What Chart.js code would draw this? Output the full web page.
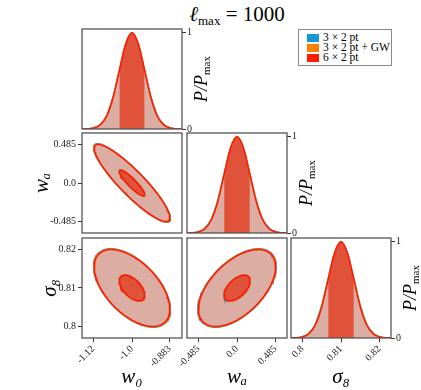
<!DOCTYPE html>
<html>
<head>
<meta charset="utf-8">
<script src="https://cdn.jsdelivr.net/npm/chart.js@4.4.1/dist/chart.umd.min.js"></script>
<style>
body{margin:0;background:#fff;width:421px;height:390px;position:relative;overflow:hidden;font-family:'Liberation Serif','DejaVu Serif',serif}
canvas{position:absolute;left:0;top:0}
#title{position:absolute;left:0;top:2px;width:474px;text-align:center;font-family:'Liberation Serif','DejaVu Serif',serif;font-size:21px;color:#000}
#title sub{font-size:13px;vertical-align:-4px}
#legend{position:absolute;left:298px;top:29px;width:92px;height:33px;border:1px solid #8a8a8a;font-family:'Liberation Serif','DejaVu Serif',serif;font-size:11.5px;line-height:10px;padding-top:2px;box-sizing:content-box}
#legend div{height:10px;white-space:nowrap}
#legend span{display:inline-block;width:12px;height:8px;margin:0 4px 0 8px;vertical-align:-1px}
</style>
</head>
<body>
<div id="title"><i>ℓ</i><sub>max</sub> = 1000</div>
<div id="legend"></div>
<script>
'use strict'
// parameters: w0, wa, sigma8
const paramNames = ['w₀', 'wₐ', 'σ₈'];
const centers = [-1.0, 0.0, 0.81];
const axisMin = [-1.155, -0.63, 0.797];
const axisMax = [-0.845, 0.63, 0.823];
const tickValues = [[-1.12, -1.0, -0.883], [-0.485, 0.0, 0.485], [0.8, 0.81, 0.82]];
const tickLabels = [['-1.12', '-1.0', '-0.883'], ['-0.485', '0.0', '0.485'], ['0.8', '0.81', '0.82']];

// three probes, 1 sigma errors and correlations (w0-wa, w0-s8, wa-s8)
const seriesNames = ['3 × 2 pt', '3 × 2 pt + GW', '6 × 2 pt'];
const seriesColors = ['#1597d3', '#ff8000', '#ff1a00'];
const sigma3x2 = [0.0398, 0.165, 0.0034];
const sigma3x2GW = [0.0394, 0.1633, 0.00337];
const sigma6x2 = [0.039, 0.1617, 0.00333];
const corr3x2 = [-0.9, -0.55, 0.55];
const corr3x2GW = [-0.9, -0.55, 0.55];
const corr6x2 = [-0.9, -0.55, 0.55];
const contourLevels = [1, 3];

// 1D profile, P/Pmax read at offsets (in sigma) from the centre
const profileOffsets = [-4, -3.5, -3, -2.5, -2, -1.5, -1, -0.5, 0, 0.5, 1, 1.5, 2, 2.5, 3, 3.5, 4];
const profileHeights = [0.0003, 0.002, 0.011, 0.044, 0.135, 0.325, 0.607, 0.882, 1, 0.882, 0.607, 0.325, 0.135, 0.044, 0.011, 0.002, 0.0003];
const pdfTicks = [0, 1];

const allSigma = [sigma3x2, sigma3x2GW, sigma6x2];
const allCorr = [corr3x2, corr3x2GW, corr6x2];

const lightFill = '#dcada2';
const darkFill = '#e1523a';
const tickFont = {family: 'Liberation Serif', size: 10};
const titleFont = {family: 'Liberation Serif', size: 21, style: 'italic'};

const W = 421, H = 390;
const colLeft = [82, 187, 291];
const rowTop = [29, 133, 238];
const SIZE = 100;

// legend
const leg = document.getElementById('legend');
seriesNames.forEach((n, k) => {
    const d = document.createElement('div');
    d.innerHTML = '<span style="background:' + seriesColors[k] + '"></span>' + n;
    leg.appendChild(d);
});

const framePlugin = {
    id: 'frame',
    afterDraw(chart) {
        const a = chart.chartArea, ctx = chart.ctx;
        ctx.save();
        ctx.strokeStyle = '#555';
        ctx.lineWidth = 1.3;
        ctx.strokeRect(a.left, a.top, a.right - a.left, a.bottom - a.top);
        const rt = chart.options.plugins.rightTitle;
        if (rt && rt.show) {
            ctx.translate(a.right + 20, (a.top + a.bottom) / 2);
            ctx.rotate(-Math.PI / 2);
            ctx.fillStyle = '#000';
            ctx.textBaseline = 'middle';
            ctx.font = 'italic 18px "Liberation Serif"';
            const w1 = ctx.measureText('P/P').width;
            ctx.font = '11px "Liberation Serif"';
            const w2 = ctx.measureText('max').width;
            const x0 = -(w1 + w2) / 2;
            ctx.font = 'italic 18px "Liberation Serif"';
            ctx.fillText('P/P', x0, 0);
            ctx.font = '11px "Liberation Serif"';
            ctx.fillText('max', x0 + w1, 5);
        }
        ctx.restore();
    }
};

function contour(px, py, sig, rho, k) {
    const pts = [];
    for (let a = 0; a <= 360; a += 3) {
        const t = a * Math.PI / 180;
        pts.push({
            x: centers[px] + k * sig[px] * Math.cos(t),
            y: centers[py] + k * sig[py] * (rho * Math.cos(t) + Math.sqrt(1 - rho * rho) * Math.sin(t))
        });
    }
    return pts;
}

function profile(p, sig, lo, hi) {
    const pts = [];
    profileOffsets.forEach((o, n) => {
        if (o >= lo && o <= hi) pts.push({x: centers[p] + o * sig[p], y: profileHeights[n]});
    });
    return pts;
}

function corrIndex(a, b) {
    if (a === 0 && b === 1) return 0;
    if (a === 0 && b === 2) return 1;
    return 2;
}

function lineSet(data, color, fill, bg, width) {
    return {
        data: data, borderColor: color, borderWidth: width, backgroundColor: bg || 'transparent',
        fill: fill, pointRadius: 0, tension: 0
    };
}

function xScale(p, show) {
    return {
        type: 'linear', position: 'bottom', min: axisMin[p], max: axisMax[p], display: show,
        afterBuildTicks: s => { s.ticks = tickValues[p].map(v => ({value: v})); },
        afterFit: s => { s.height = show ? 52 : 0; },
        ticks: {
            callback: (v, i) => tickLabels[p][i], minRotation: 45, maxRotation: 45,
            autoSkip: false, font: tickFont, color: '#222', padding: 1
        },
        grid: {drawOnChartArea: false, tickLength: 4, color: '#333'},
        border: {display: false},
        title: {display: true, text: paramNames[p], font: titleFont, color: '#000', padding: {top: 0, bottom: 0}}
    };
}

function yScale(p, show, width) {
    return {
        type: 'linear', position: 'left', min: axisMin[p], max: axisMax[p], display: show,
        afterBuildTicks: s => { s.ticks = tickValues[p].map(v => ({value: v})); },
        afterFit: s => { s.width = show ? width : 0; },
        ticks: {callback: (v, i) => tickLabels[p][i], autoSkip: false, font: tickFont, color: '#222', padding: 2},
        grid: {drawOnChartArea: false, tickLength: 4, color: '#333'},
        border: {display: false},
        title: {display: true, text: paramNames[p], font: titleFont, color: '#000', padding: {top: 2, bottom: 0}}
    };
}

function pdfScale() {
    return {
        type: 'linear', position: 'right', min: 0, max: 1.04,
        afterBuildTicks: s => { s.ticks = pdfTicks.map(v => ({value: v})); },
        afterFit: s => { s.width = 25; },
        ticks: {callback: (v, i) => String(pdfTicks[i]), autoSkip: false, font: tickFont, color: '#222', padding: 1},
        grid: {drawOnChartArea: false, tickLength: 4, color: '#333'},
        border: {display: false}
    };
}

const leftWidth = [0, 54, 46];

function makePanel(row, col) {
    const canvas = document.createElement('canvas');
    canvas.width = W; canvas.height = H;
    canvas.style.width = W + 'px'; canvas.style.height = H + 'px';
    document.body.appendChild(canvas);

    const l = colLeft[col], t = rowTop[row];
    const showX = row === 2;
    const xH = showX ? 52 : 0;
    const datasets = [];
    let scales, padding;

    if (row === col) {
        const p = row;
        // bottom to top
        datasets.push(lineSet(profile(p, allSigma[0], -9, 9), seriesColors[0], false, null, 1.5));
        datasets.push(lineSet(profile(p, allSigma[1], -9, 9), seriesColors[1], false, null, 1.5));
        datasets.push(lineSet(profile(p, allSigma[2], -9, 9), 'transparent', 'origin', lightFill, 0));
        datasets.push(lineSet(profile(p, allSigma[2], -1, 1), 'transparent', 'origin', darkFill, 0));
        datasets.push(lineSet(profile(p, allSigma[2], -9, 9), seriesColors[2], false, null, 1.5));
        datasets.forEach(d => { d.cubicInterpolationMode = 'monotone'; });
        scales = {x: xScale(p, showX), y: pdfScale()};
        padding = {left: l, top: t, right: W - (l + SIZE) - 25, bottom: H - (t + SIZE) - xH};
    } else {
        const px = col, py = row, ci = corrIndex(col, row);
        const lw = 1.5;
        for (let s = 0; s < 2; s++) {
            datasets.push(lineSet(contour(px, py, allSigma[s], allCorr[s][ci], contourLevels[1]), seriesColors[s], false, null, lw));
        }
        datasets.push(lineSet(contour(px, py, allSigma[2], allCorr[2][ci], contourLevels[1]), seriesColors[2], 'shape', lightFill, lw));
        for (let s = 0; s < 2; s++) {
            datasets.push(lineSet(contour(px, py, allSigma[s], allCorr[s][ci], contourLevels[0]), seriesColors[s], false, null, lw));
        }
        datasets.push(lineSet(contour(px, py, allSigma[2], allCorr[2][ci], contourLevels[0]), seriesColors[2], 'shape', darkFill, lw));
        const yW = col === 0 ? leftWidth[row] : 0;
        scales = {x: xScale(px, showX), y: yScale(py, col === 0, yW)};
        padding = {left: l - yW, top: t, right: W - (l + SIZE), bottom: H - (t + SIZE) - xH};
    }
    // first in list is drawn at the bottom
    datasets.forEach((d, i) => { d.order = datasets.length - i; });

    new Chart(canvas.getContext('2d'), {
        type: 'line',
        data: {datasets: datasets},
        options: {
            responsive: false, animation: false, events: [],
            layout: {padding: padding},
            scales: scales,
            plugins: {legend: {display: false}, tooltip: {enabled: false}, rightTitle: {show: row === col}}
        },
        plugins: [framePlugin]
    });
}

for (let r = 0; r < 3; r++) {
    for (let c = 0; c <= r; c++) makePanel(r, c);
}
</script>
</body>
</html>
